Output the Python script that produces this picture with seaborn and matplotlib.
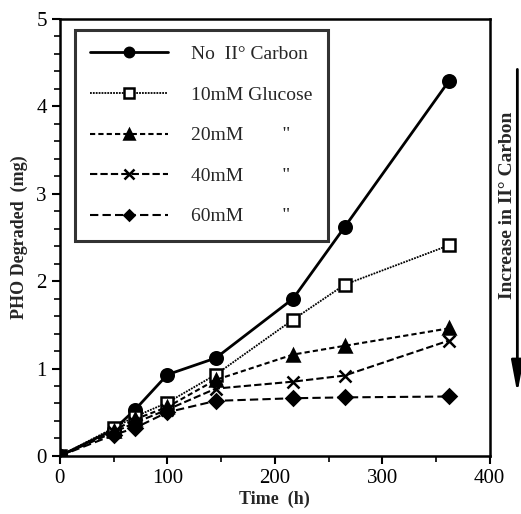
import matplotlib
matplotlib.use("Agg")
import matplotlib.pyplot as plt
import seaborn as sns
import pandas as pd
import numpy as np
from matplotlib.ticker import MultipleLocator

time_h = [0, 50, 70, 100, 145, 217, 265, 362]
no_carbon = [0, 0.30, 0.53, 0.93, 1.12, 1.80, 2.62, 4.29]
glucose_10 = [0, 0.32, 0.45, 0.61, 0.93, 1.56, 1.96, 2.41]
glucose_20 = [0, 0.29, 0.42, 0.56, 0.87, 1.16, 1.26, 1.46]
glucose_40 = [0, 0.27, 0.38, 0.53, 0.77, 0.85, 0.92, 1.32]
glucose_60 = [0, 0.24, 0.32, 0.50, 0.63, 0.66, 0.67, 0.68]

labels = ["No  II\u00b0 Carbon", "10mM Glucose", "20mM        \"", "40mM        \"", "60mM        \""]
series = [no_carbon, glucose_10, glucose_20, glucose_40, glucose_60]

sns.set_theme(style="white")
plt.rcParams['font.family'] = ['Liberation Serif', 'DejaVu Serif']

fig = plt.figure(figsize=(5.21, 5.14), dpi=100)
ax = fig.add_axes([0.115, 0.113, 0.825, 0.850])

styles = [
    dict(marker='o', ls='-', lw=2.0, mfc='black', ms=9),
    dict(marker='s', ls=(0, (1, 0.6)), lw=1.3, mfc='white', ms=9),
    dict(marker='^', ls=(0, (2.5, 1.5)), lw=1.5, mfc='black', ms=9),
    dict(marker='x', ls=(0, (3.5, 1.5)), lw=1.5, mfc='black', ms=9),
    dict(marker='D', ls=(0, (4, 2)), lw=1.5, mfc='black', ms=7),
]

for vals, lab, st in zip(series, labels, styles):
    df = pd.DataFrame({"Time": time_h, "PHO": vals})
    sns.lineplot(data=df, x="Time", y="PHO", ax=ax, color='black',
                 linestyle=st['ls'], linewidth=st['lw'], marker=st['marker'],
                 markerfacecolor=st['mfc'], markeredgecolor='black',
                 markeredgewidth=1.8, markersize=st['ms'], label=lab)

ax.set_xlim(0, 400)
ax.set_ylim(0, 5)
ax.xaxis.set_major_locator(MultipleLocator(100))
ax.xaxis.set_minor_locator(MultipleLocator(50))
ax.yaxis.set_major_locator(MultipleLocator(1))
ax.yaxis.set_minor_locator(MultipleLocator(0.2))
ax.tick_params(axis='both', which='both', direction='out', bottom=True, left=True,
               top=False, right=False, colors='black', labelsize=15)
ax.tick_params(which='major', length=6, width=1.5)
ax.tick_params(which='minor', length=4, width=1.2)
for sp in ax.spines.values():
    sp.set_color('black')
    sp.set_linewidth(1.8)

ax.set_xlabel("Time  (h)", fontsize=13, fontweight='bold', labelpad=2)
ax.set_ylabel("PHO Degraded  (mg)", fontsize=13, fontweight='bold', labelpad=6)

leg = ax.legend(loc='upper left', bbox_to_anchor=(0.012, 0.997), fontsize=14,
                handlelength=4.0, labelspacing=1.18, borderpad=0.8,
                handletextpad=1.2, fancybox=False, frameon=True, markerscale=0.75)
leg.get_frame().set_edgecolor('black')
leg.get_frame().set_linewidth(2.2)

fig.text(0.975, 0.60, "Increase in II\u00b0 Carbon", rotation=90, fontsize=14,
         fontweight='bold', ha='center', va='center')
ax.annotate("", xy=(0.993, 0.235), xytext=(0.993, 0.865), xycoords='figure fraction',
            textcoords='figure fraction', annotation_clip=False,
            arrowprops=dict(arrowstyle='-|>,head_length=1.6,head_width=0.3',
                            color='black', lw=2.0, shrinkA=0, shrinkB=0))

fig.savefig("out.png", dpi=100)
